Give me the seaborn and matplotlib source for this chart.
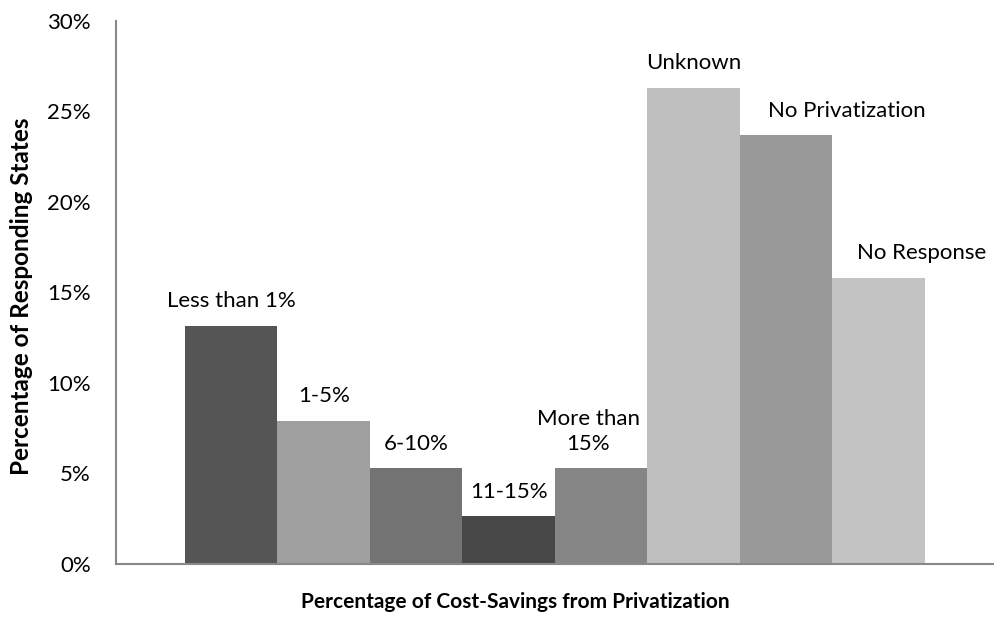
import matplotlib
matplotlib.use("Agg")
import matplotlib.pyplot as plt
import seaborn as sns
import pandas as pd
from matplotlib.ticker import PercentFormatter

categories = ["Less than 1%", "1-5%", "6-10%", "11-15%", "More than\n15%",
              "Unknown", "No Privatization", "No Response"]
states = [5, 3, 2, 1, 2, 10, 9, 6]
total_states = 38
shares = [s / total_states for s in states]
colors = ["#555555", "#9f9f9f", "#737373", "#474747", "#858585",
          "#bfbfbf", "#999999", "#c3c3c3"]
# horizontal nudges (in pixels) of the category labels
label_dx = [0, 0, 0, 0, -13, 0, 61, 43]

sns.set_theme(style="white")
plt.rcParams["font.family"] = ["Lato", "DejaVu Sans"]

df = pd.DataFrame({"category": categories, "share": shares})

W, H = 995, 621
fig = plt.figure(figsize=(W / 100, H / 100), dpi=100)
ax = fig.add_axes([115.7 / W, (H - 563.7) / H, (994 - 115.7) / W, (563.7 - 21) / H])

sns.barplot(data=df, x="category", y="share", hue="category", palette=colors,
            width=1.0, saturation=1, legend=False, ax=ax, linewidth=0)

ax.set_xlim(-1.25, 8.25)
ax.set_ylim(0, 0.30)
ax.set_yticks([0, 0.05, 0.10, 0.15, 0.20, 0.25, 0.30])
ax.yaxis.set_major_formatter(PercentFormatter(1.0, decimals=0))
ax.tick_params(axis="y", length=0, pad=18, labelsize=16, labelcolor="#000000")
ax.set_xticks([])
ax.set_xlabel("")
ax.set_ylabel("")
for side in ["top", "right"]:
    ax.spines[side].set_visible(False)
for side in ["left", "bottom"]:
    ax.spines[side].set_color("#888888")
    ax.spines[side].set_linewidth(1.5)

for i, (cat, val) in enumerate(zip(categories, shares)):
    ax.annotate(cat, xy=(i, val), xytext=(label_dx[i] * 0.72, 10.5),
                textcoords="offset points", ha="center", va="bottom",
                fontsize=16, color="#000000", linespacing=1.3)

fig.text(22 / W, 1 - 296 / H, "Percentage of Responding States", rotation=90,
         ha="center", va="center", fontsize=17.5, fontweight="bold", color="#000000")
fig.text(515 / W, 1 - 602 / H, "Percentage of Cost-Savings from Privatization",
         ha="center", va="center", fontsize=15, fontweight="bold", color="#000000")

fig.savefig("out.png", dpi=100)
